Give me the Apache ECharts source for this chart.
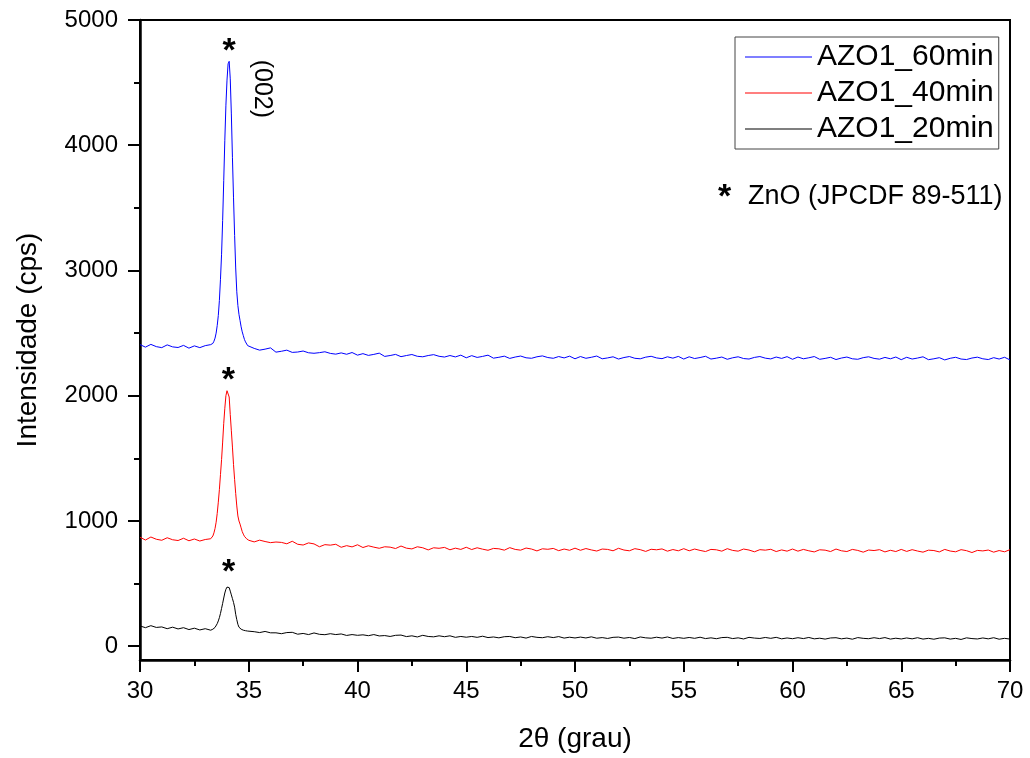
<!DOCTYPE html>
<html>
<head>
<meta charset="utf-8">
<script src="https://cdn.jsdelivr.net/npm/echarts@6/dist/echarts.min.js"></script>
<style>html,body{margin:0;padding:0;background:#fff}#c{width:1030px;height:758px}</style>
</head>
<body>
<div id="c"></div>
<script>
const twoTheta = [
30,30.25,30.5,30.75,31,31.25,31.5,31.75,32,32.25,32.5,32.75,33,33.25,
33.3,33.35,33.4,33.45,33.5,33.55,33.6,33.65,33.7,33.75,33.8,33.85,33.9,33.95,34,34.05,34.1,34.15,34.2,34.25,34.3,34.35,34.4,34.45,34.5,34.55,34.6,34.65,34.7,34.75,34.8,34.85,34.9,34.95,35,
35.25,35.5,35.75,36,36.25,36.5,36.75,37,37.25,37.5,37.75,38,38.25,38.5,38.75,39,39.25,39.5,39.75,40,
40.25,40.5,40.75,41,41.25,41.5,41.75,42,42.25,42.5,42.75,43,43.25,43.5,43.75,44,44.25,44.5,44.75,45,
45.25,45.5,45.75,46,46.25,46.5,46.75,47,47.25,47.5,47.75,48,48.25,48.5,48.75,49,49.25,49.5,49.75,50,
50.25,50.5,50.75,51,51.25,51.5,51.75,52,52.25,52.5,52.75,53,53.25,53.5,53.75,54,54.25,54.5,54.75,55,
55.25,55.5,55.75,56,56.25,56.5,56.75,57,57.25,57.5,57.75,58,58.25,58.5,58.75,59,59.25,59.5,59.75,60,
60.25,60.5,60.75,61,61.25,61.5,61.75,62,62.25,62.5,62.75,63,63.25,63.5,63.75,64,64.25,64.5,64.75,65,
65.25,65.5,65.75,66,66.25,66.5,66.75,67,67.25,67.5,67.75,68,68.25,68.5,68.75,69,69.25,69.5,69.75,70
];
const azo60 = [
2408,2388,2410,2392,2384,2406,2390,2385,2402,2380,2398,2384,2400,2408,
2410,2418,2435,2460,2500,2560,2640,2760,2930,3130,3400,3720,4040,4320,4520,4650,4670,4530,4250,3900,3580,3280,3020,2830,2720,2650,2600,2550,2510,2480,2450,2430,2415,2400,2390,
2378,2364,2372,2382,2348,2355,2364,2346,2349,2357,2343,2339,2344,2351,2338,2332,2342,2331,2345,2324,
2336,2322,2330,2340,2314,2321,2330,2312,2321,2329,2315,2311,2321,2328,2315,2309,2321,2310,2324,2303,
2320,2306,2314,2324,2300,2307,2316,2298,2309,2317,2303,2299,2311,2318,2305,2299,2313,2302,2316,2295,
2313,2299,2307,2317,2295,2302,2311,2293,2305,2313,2299,2295,2308,2315,2302,2296,2311,2300,2314,2293,
2311,2297,2305,2315,2293,2300,2309,2291,2303,2311,2297,2293,2306,2313,2300,2294,2309,2298,2312,2291,
2309,2295,2303,2313,2291,2298,2307,2289,2301,2309,2295,2291,2304,2311,2298,2292,2306,2295,2309,2288,
2307,2293,2301,2311,2288,2295,2304,2286,2299,2307,2293,2289,2301,2308,2295,2289,2304,2293,2307,2286
];
const azo40 = [
870,848,872,854,846,866,850,844,862,842,856,840,852,858,
862,880,905,940,990,1060,1150,1250,1370,1490,1630,1780,1900,2000,2040,2030,1990,1850,1720,1590,1450,1330,1220,1120,1040,1000,975,945,915,895,878,866,858,850,846,
833,847,836,827,832,829,818,838,814,808,825,817,794,811,807,814,790,803,793,810,
788,802,791,782,794,791,780,800,783,777,794,786,769,786,782,789,770,783,773,790,
772,786,775,766,781,778,767,787,773,767,784,776,761,778,774,781,763,776,766,783,
766,780,769,760,776,773,762,782,768,762,779,771,757,774,770,777,759,772,762,779,
762,776,765,756,773,770,759,779,765,759,776,768,754,771,767,774,756,769,759,776,
759,773,762,753,770,767,756,776,762,756,773,765,751,768,764,771,753,766,756,773,
757,771,760,751,767,764,753,773,760,754,771,763,748,765,761,768,751,764,754,771
];
const azo20 = [
162,148,164,150,154,140,152,138,148,133,144,130,140,128,
132,136,141,150,162,180,202,228,262,302,342,385,425,455,472,478,468,440,410,380,350,312,255,212,175,152,142,136,131,128,126,124,122,121,119,
116,109,118,107,107,100,109,111,96,102,93,106,95,92,100,93,98,86,93,87,
91,84,93,82,85,78,87,89,77,83,74,87,78,75,83,76,83,71,78,72,
78,71,80,69,74,67,76,78,68,74,65,78,71,68,76,69,77,65,72,66,
73,66,75,64,69,62,71,73,64,70,61,74,67,64,72,65,74,62,69,63,
70,63,72,61,67,60,69,71,61,67,58,71,65,62,70,63,71,59,66,60,
68,61,70,59,64,57,66,68,59,65,56,69,63,60,68,61,69,57,64,58,
66,59,68,57,63,56,65,67,57,63,54,67,61,58,66,59,68,56,63,57
];
const seriesNames = ['AZO1_60min', 'AZO1_40min', 'AZO1_20min'];
const seriesColors = ['#0000ff', '#ff0000', '#000000'];
const seriesValues = [azo60, azo40, azo20];
const starX = [34.1, 34.06, 34.08];
const starY = [4750, 2120, 585];
const planeLabel = '(002)';
const planeX = [35.62];
const planeY = [4450];
const yMajor = [0, 1000, 2000, 3000, 4000, 5000];
const yMinor = [500, 1500, 2500, 3500, 4500];
const phaseNote = 'ZnO (JPCDF 89-511)';

const FONT = '"Liberation Sans", Arial, sans-serif';
const chart = echarts.init(document.getElementById('c'), null, {renderer: 'canvas'});

const lineSeries = seriesNames.map((name, k) => ({
  name: name,
  type: 'line',
  data: twoTheta.map((x, i) => [x, seriesValues[k][i]]),
  symbol: 'none',
  showSymbol: false,
  lineStyle: {color: seriesColors[k], width: 1},
  itemStyle: {color: seriesColors[k]},
  z: 3 - k,
  silent: true
}));

const annotationSeries = {
  name: 'stars',
  type: 'scatter',
  symbolSize: 0,
  silent: true,
  itemStyle: {opacity: 1},
  data: starX.map((x, i) => [x, starY[i]]),
  label: {show: true, position: 'inside', formatter: '*', fontSize: 34, fontWeight: 'bold', color: '#000', opacity: 1, fontFamily: FONT}
};
const planeSeries = {
  name: 'plane',
  type: 'scatter',
  symbolSize: 0,
  silent: true,
  itemStyle: {opacity: 1},
  data: planeX.map((x, i) => [x, planeY[i]]),
  label: {show: true, position: 'inside', formatter: planeLabel, rotate: -90, fontSize: 25, color: '#000', opacity: 1, fontFamily: FONT}
};

chart.setOption({
  animation: false,
  backgroundColor: '#fff',
  grid: {left: 140, right: 20, top: 20, bottom: 96, show: true, borderColor: '#000', borderWidth: 2, backgroundColor: 'transparent'},
  legend: {
    data: seriesNames,
    orient: 'vertical',
    left: 735, top: 37,
    icon: 'rect',
    itemWidth: 67, itemHeight: 1, itemGap: 6,
    padding: [5, 5, 5, 10],
    borderColor: '#444', borderWidth: 1,
    textStyle: {fontSize: 30, fontFamily: FONT, color: '#000', lineHeight: 30},
    selectedMode: false
  },
  xAxis: {
    type: 'value', min: 30, max: 70, interval: 5,
    name: '2θ (grau)', nameLocation: 'middle', nameGap: 65,
    nameTextStyle: {fontSize: 28, fontFamily: FONT, color: '#000'},
    axisLine: {show: true, onZero: false, lineStyle: {color: '#000', width: 2.5}},
    axisTick: {show: true, inside: false, length: 12, lineStyle: {color: '#000', width: 2}},
    minorTick: {show: true, splitNumber: 2, length: 6, lineStyle: {color: '#000', width: 2}},
    axisLabel: {fontSize: 24, fontFamily: FONT, color: '#000', margin: 19},
    splitLine: {show: false}, minorSplitLine: {show: false}
  },
  yAxis: [{
    type: 'value', min: -110, max: 5000, position: 'left',
    name: 'Intensidade (cps)', nameLocation: 'middle', nameGap: 98,
    nameTextStyle: {fontSize: 28, fontFamily: FONT, color: '#000'},
    axisLine: {show: true, onZero: false, lineStyle: {color: '#000', width: 2.5}},
    axisTick: {show: true, inside: false, length: 12, customValues: yMajor, lineStyle: {color: '#000', width: 2}},
    axisLabel: {fontSize: 24, fontFamily: FONT, color: '#000', margin: 22, customValues: yMajor, formatter: v => String(v)},
    splitLine: {show: false}
  }, {
    type: 'value', min: -110, max: 5000, position: 'left',
    axisLine: {show: false},
    axisTick: {show: true, inside: false, length: 6, customValues: yMinor, lineStyle: {color: '#000', width: 2}},
    axisLabel: {show: false},
    splitLine: {show: false}
  }],
  series: lineSeries.concat([annotationSeries, planeSeries]),
  graphic: [{
    type: 'text', left: 718, top: 181,
    style: {text: '*', fontSize: 34, fontWeight: 'bold', fontFamily: FONT, fill: '#000'}
  }, {
    type: 'text', left: 748, top: 183,
    style: {text: phaseNote, fontSize: 27, fontFamily: FONT, fill: '#000'}
  }]
});
</script>
</body>
</html>
